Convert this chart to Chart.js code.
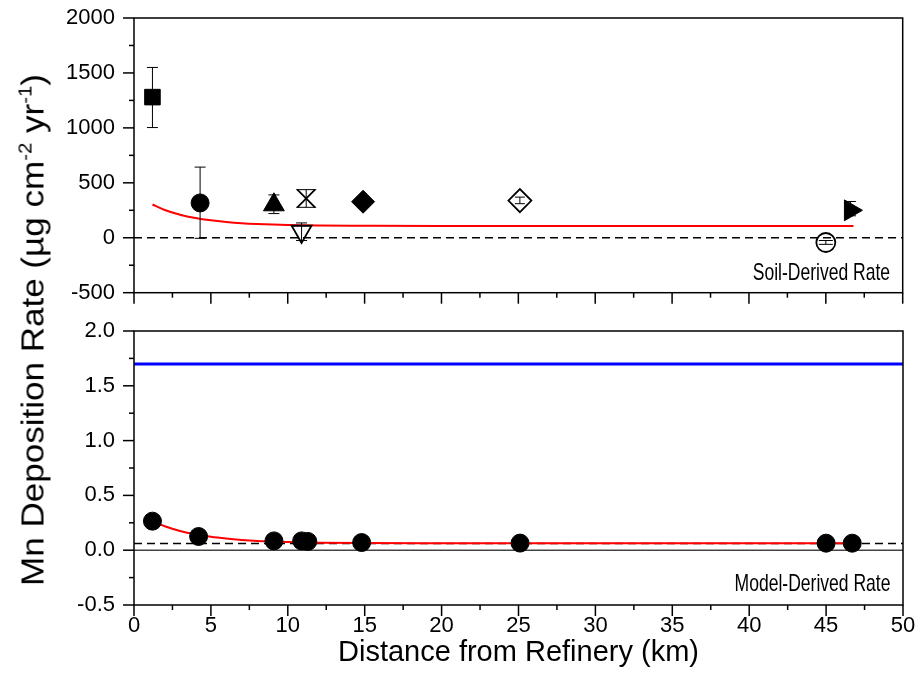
<!DOCTYPE html>
<html lang="en">
<head>
<meta charset="UTF-8">
<title>Mn Deposition Rate vs Distance from Refinery</title>
<script src="https://cdn.jsdelivr.net/npm/chart.js"></script>
<style>
    body {
        margin: 0;
        background: #fff;
        width: 917px;
        height: 676px;
        position: relative;
        overflow: hidden;
        font-family: Arial, "Liberation Sans", sans-serif;
    }
    #soilWrap { position: absolute; left: 0; top: 0; width: 917px; height: 307px; }
    #modelWrap { position: absolute; left: 0; top: 300px; width: 917px; height: 376px; }
    .yTitle {
        position: absolute;
        left: 33px;
        top: 330px;
        transform: translate(-50%, -50%) rotate(-90deg) scaleX(1.13);
        white-space: nowrap;
        font-size: 31px;
        line-height: 31px;
        color: #000;
    }
    .yTitle sup { font-size: 18px; vertical-align: 12px; line-height: 0; }
    .panelLabel {
        position: absolute;
        right: 27px;
        font-size: 24px;
        line-height: 24px;
        color: #000;
        white-space: nowrap;
        transform: scaleX(0.73);
        transform-origin: right center;
    }
</style>
</head>
<body>
<div id="soilWrap"><canvas id="soilChart"></canvas></div>
<div id="modelWrap"><canvas id="modelChart"></canvas></div>
<div class="yTitle">Mn Deposition Rate (µg cm<sup>-2</sup> yr<sup>-1</sup>)</div>
<div class="panelLabel" style="top:260px">Soil-Derived Rate</div>
<div class="panelLabel" style="top:571px">Model-Derived Rate</div>

<script>
    // ---- data ----
    // soil-derived rates (one marker per site)
    const soilX    = [1.2, 4.3, 9.1, 10.9, 11.2, 14.9, 25.1, 45.0, 46.6];
    const soilY    = [1280, 317, 300, 57, 358, 328, 338, -43, 250];
    const soilLow  = [1003, -5, 220, -25, 277, null, 310, -60, 200];
    const soilHigh = [1550, 643, 390, 135, 438, null, 370, -25, 330];

    // fitted curve through soil rates
    const soilFitX = [1.2, 2, 3, 4, 5, 6, 7, 8, 10, 12, 15, 20, 30, 46.8];
    const soilFitY = [303, 253, 210, 180, 159, 144, 133, 126, 117, 112, 110, 108, 108, 108];

    // model-derived rates
    const modelX = [1.2, 4.2, 9.1, 10.9, 11.3, 14.8, 25.1, 45.0, 46.7];
    const modelY = [0.265, 0.125, 0.085, 0.085, 0.08, 0.07, 0.065, 0.064, 0.064];

    const modelFitX = [1.2, 2, 3, 4, 5, 6, 7, 8, 10, 12, 15, 20, 30, 46.8];
    const modelFitY = [0.265, 0.219, 0.176, 0.145, 0.122, 0.106, 0.094, 0.085, 0.075, 0.069, 0.065, 0.064, 0.063, 0.063];

    // reference lines
    const lineX = [0, 50];
    const blueLevel = 1.7;
    const dashedLevel = 0.06;

    // marker styles for the soil sites (styles only, no values)
    const soilMarkers = [
        { style: 'rect',     r: 11,   fill: true,  rot: 0,   cap: 11 },
        { style: 'circle',   r: 9,    fill: true,  rot: 0,   cap: 11 },
        { style: 'triangle', r: 12,   fill: true,  rot: 0,   cap: 11 },
        { style: 'triangle', r: 11.5, fill: false, rot: 180, cap: 11 },
        { style: 'crossRot', r: 12.5, fill: false, rot: 0,   cap: 20 },
        { style: 'rectRot',  r: 11.5, fill: true,  rot: 0,   cap: 0 },
        { style: 'rectRot',  r: 11.5, fill: false, rot: 0,   cap: 10 },
        { style: 'circle',   r: 9.5,  fill: false, rot: 0,   cap: 14 },
        { style: 'triangle', r: 12,   fill: true,  rot: 90,  cap: 11 }
    ];

    const arial = 'Arial, "Liberation Sans", sans-serif';
    const pts = (xs, ys) => xs.map((x, i) => ({ x: x, y: ys[i] }));
    const flat = v => lineX.map(x => ({ x: x, y: v }));

    // box around the plot area + outward major/minor tick marks
    const framePlugin = {
        id: 'frame',
        afterDraw(chart, args, opts) {
            const { ctx, chartArea: a } = chart;
            ctx.save();
            ctx.strokeStyle = '#000';
            ctx.lineWidth = 1.5;
            ctx.strokeRect(a.left, a.top, a.right - a.left, a.bottom - a.top);
            ['x', 'y'].forEach(id => {
                const s = chart.scales[id];
                const step = opts[id];
                s.ticks.forEach(t => {
                    const p = s.getPixelForValue(t.value);
                    const q = t.value / step;
                    const len = Math.abs(q - Math.round(q)) < 1e-6 ? 11 : 5;
                    ctx.beginPath();
                    if (id === 'x') {
                        ctx.moveTo(p, a.bottom);
                        ctx.lineTo(p, a.bottom + len);
                    } else {
                        ctx.moveTo(a.left, p);
                        ctx.lineTo(a.left - len, p);
                    }
                    ctx.stroke();
                });
            });
            ctx.restore();
        }
    };

    // vertical error bars with caps for the first dataset
    const errorBarPlugin = {
        id: 'errorBars',
        afterDatasetsDraw(chart) {
            const ds = chart.data.datasets[0];
            const xs = chart.scales.x, ys = chart.scales.y, ctx = chart.ctx;
            ctx.save();
            ctx.strokeStyle = '#000';
            ctx.lineWidth = 1;
            ds.data.forEach((p, i) => {
                if (p.lo == null) return;
                const px = xs.getPixelForValue(p.x);
                const pl = ys.getPixelForValue(p.lo);
                const ph = ys.getPixelForValue(p.hi);
                const w = soilMarkers[i].cap / 2;
                ctx.beginPath();
                ctx.moveTo(px, pl); ctx.lineTo(px, ph);
                ctx.moveTo(px - w, pl); ctx.lineTo(px + w, pl);
                ctx.moveTo(px - w, ph); ctx.lineTo(px + w, ph);
                ctx.stroke();
            });
            ctx.restore();
        }
    };

    // fixed axis sizes, and no extra room for overhanging labels
    function fixSize(prop, size) {
        return s => {
            s[prop] = size;
            s.paddingTop = 0;
            s.paddingBottom = 0;
            s.paddingLeft = 0;
            s.paddingRight = 0;
        };
    }

    function baseScales(yMin, yMax, yStep, yMajor, xHeight, xLabels) {
        return {
            x: {
                type: 'linear',
                min: 0,
                max: 50,
                grid: { display: false, drawTicks: false },
                border: { display: false },
                ticks: {
                    stepSize: 2.5,
                    autoSkip: false,
                    maxRotation: 0,
                    padding: 8,
                    color: '#000',
                    font: { family: arial, size: 22 },
                    callback: v => (xLabels && v % 5 === 0) ? v : ''
                },
                afterFit: fixSize('height', xHeight)
            },
            y: {
                min: yMin,
                max: yMax,
                grid: { display: false, drawTicks: false },
                border: { display: false },
                ticks: {
                    stepSize: yStep,
                    autoSkip: false,
                    padding: 19,
                    color: '#000',
                    font: { family: arial, size: 22 },
                    callback: v => {
                        const q = v / yMajor;
                        if (Math.abs(q - Math.round(q)) > 1e-6) return '';
                        return yMajor < 1 ? v.toFixed(1) : v;
                    }
                },
                afterFit: fixSize('width', 134)
            }
        };
    }

    const common = {
        responsive: true,
        maintainAspectRatio: false,
        animation: false,
        events: []
    };

    // ---- top panel: soil-derived ----
    const soilScales = baseScales(-500, 2000, 250, 500, 8, false);
    new Chart(document.getElementById('soilChart'), {
        type: 'scatter',
        data: {
            datasets: [
                {
                    data: soilX.map((x, i) => ({ x: x, y: soilY[i], lo: soilLow[i], hi: soilHigh[i] })),
                    pointStyle: soilMarkers.map(m => m.style),
                    pointRadius: soilMarkers.map(m => m.r),
                    rotation: soilMarkers.map(m => m.rot),
                    backgroundColor: soilMarkers.map(m => m.fill ? '#000' : 'rgba(0,0,0,0)'),
                    borderColor: '#000',
                    borderWidth: soilMarkers.map(m => m.fill ? 1 : 1.8)
                },
                {
                    data: pts(soilFitX, soilFitY),
                    showLine: true,
                    pointRadius: 0,
                    borderColor: '#ff0000',
                    borderWidth: 2,
                    cubicInterpolationMode: 'monotone'
                },
                {
                    data: flat(0),
                    showLine: true,
                    pointRadius: 0,
                    borderColor: '#000',
                    borderWidth: 1.5,
                    borderDash: [8, 5]
                }
            ]
        },
        options: Object.assign({}, common, {
            layout: { padding: { top: 18, right: 14, left: 0, bottom: 0 } },
            scales: soilScales,
            plugins: {
                legend: { display: false },
                tooltip: { enabled: false },
                frame: { x: 5, y: 500 }
            }
        }),
        plugins: [framePlugin, errorBarPlugin]
    });

    // ---- bottom panel: model-derived ----
    const modelScales = baseScales(-0.5, 2.0, 0.25, 0.5, 71, true);
    modelScales.x.title = {
        display: true,
        text: 'Distance from Refinery (km)',
        color: '#000',
        font: { family: arial, size: 29 },
        padding: { top: 0, bottom: 6 }
    };
    new Chart(document.getElementById('modelChart'), {
        type: 'scatter',
        data: {
            datasets: [
                {
                    data: pts(modelX, modelY),
                    pointStyle: 'circle',
                    pointRadius: 9,
                    backgroundColor: '#000',
                    borderColor: '#000',
                    borderWidth: 1
                },
                {
                    data: pts(modelFitX, modelFitY),
                    showLine: true,
                    pointRadius: 0,
                    borderColor: '#ff0000',
                    borderWidth: 2,
                    cubicInterpolationMode: 'monotone'
                },
                {
                    data: flat(blueLevel),
                    showLine: true,
                    pointRadius: 0,
                    borderColor: '#0000ff',
                    borderWidth: 3
                },
                {
                    data: flat(dashedLevel),
                    showLine: true,
                    pointRadius: 0,
                    borderColor: '#000',
                    borderWidth: 1.5,
                    borderDash: [8, 5]
                },
                {
                    data: flat(0),
                    showLine: true,
                    pointRadius: 0,
                    borderColor: '#444',
                    borderWidth: 1.5
                }
            ]
        },
        options: Object.assign({}, common, {
            layout: { padding: { top: 31, right: 14, left: 0, bottom: 0 } },
            scales: modelScales,
            plugins: {
                legend: { display: false },
                tooltip: { enabled: false },
                frame: { x: 5, y: 0.5 }
            }
        }),
        plugins: [framePlugin]
    });
</script>
</body>
</html>
